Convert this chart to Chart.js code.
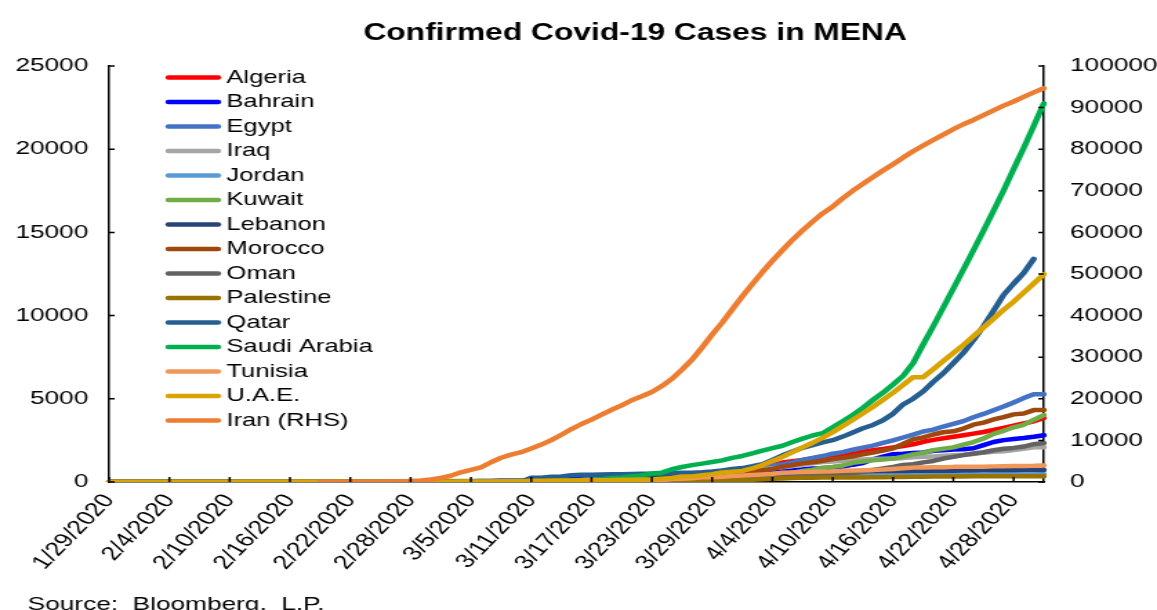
<!DOCTYPE html>
<html>
<head>
<meta charset="utf-8">
<title>Confirmed Covid-19 Cases in MENA</title>
<script src="https://cdn.jsdelivr.net/npm/chart.js@4.4.1/dist/chart.umd.min.js"></script>
<style>
  html, body { margin: 0; padding: 0; background: #fff; overflow: hidden; }
</style>
</head>
<body>
<!-- het canvas wordt breder getoond dan het getekend is, net als het origineel -->
<canvas id="grafiekCanvas" width="838" height="610" style="display:block;width:1157px;height:610px"></canvas>
<script>
// Datums op de x-as (een waarde per dag)
const datums = [
  '1/29/2020', '1/30/2020', '1/31/2020',
  '2/1/2020', '2/2/2020', '2/3/2020', '2/4/2020', '2/5/2020', '2/6/2020', '2/7/2020', '2/8/2020', '2/9/2020', '2/10/2020',
  '2/11/2020', '2/12/2020', '2/13/2020', '2/14/2020', '2/15/2020', '2/16/2020', '2/17/2020', '2/18/2020', '2/19/2020', '2/20/2020',
  '2/21/2020', '2/22/2020', '2/23/2020', '2/24/2020', '2/25/2020', '2/26/2020', '2/27/2020', '2/28/2020', '2/29/2020',
  '3/1/2020', '3/2/2020', '3/3/2020', '3/4/2020', '3/5/2020', '3/6/2020', '3/7/2020', '3/8/2020', '3/9/2020', '3/10/2020',
  '3/11/2020', '3/12/2020', '3/13/2020', '3/14/2020', '3/15/2020', '3/16/2020', '3/17/2020', '3/18/2020', '3/19/2020', '3/20/2020',
  '3/21/2020', '3/22/2020', '3/23/2020', '3/24/2020', '3/25/2020', '3/26/2020', '3/27/2020', '3/28/2020', '3/29/2020', '3/30/2020', '3/31/2020',
  '4/1/2020', '4/2/2020', '4/3/2020', '4/4/2020', '4/5/2020', '4/6/2020', '4/7/2020', '4/8/2020', '4/9/2020', '4/10/2020',
  '4/11/2020', '4/12/2020', '4/13/2020', '4/14/2020', '4/15/2020', '4/16/2020', '4/17/2020', '4/18/2020', '4/19/2020', '4/20/2020',
  '4/21/2020', '4/22/2020', '4/23/2020', '4/24/2020', '4/25/2020', '4/26/2020', '4/27/2020', '4/28/2020', '4/29/2020', '4/30/2020',
  '5/1/2020'
];

// Alleen deze datums krijgen een label en een streepje op de x-as
const tickDatums = ['1/29/2020', '2/4/2020', '2/10/2020', '2/16/2020', '2/22/2020', '2/28/2020', '3/5/2020', '3/11/2020',
  '3/17/2020', '3/23/2020', '3/29/2020', '4/4/2020', '4/10/2020', '4/16/2020', '4/22/2020', '4/28/2020'];

// Bevestigde besmettingen per land (jan | feb | mrt | apr | mei)
const algeria = [
  0, 0, 0,
  0, 0, 0, 0, 0, 0, 0, 0, 0, 0, 0, 0, 0, 0, 0, 0, 0, 0, 0, 0, 0, 0, 0, 0, 0, 0, 1, 1, 1,
  1, 1, 1, 3, 5, 12, 12, 17, 17, 19, 20, 20, 20, 24, 26, 37, 48, 54, 60, 74, 87, 90, 139, 201, 230, 264, 302, 367, 409, 454, 511,
  584, 716, 847, 986, 1171, 1251, 1320, 1423, 1468, 1572, 1666, 1761, 1825, 1914, 1983, 2070, 2160, 2268, 2418, 2534,
  2629, 2718, 2811, 2910, 3007, 3127, 3256, 3382, 3517, 3649,
  3848
];
const bahrain = [
  0, 0, 0,
  0, 0, 0, 0, 0, 0, 0, 0, 0, 0, 0, 0, 0, 0, 0, 0, 0, 0, 0, 0, 0, 0, 0, 0, 1, 23, 26, 33, 36,
  41, 47, 49, 49, 52, 55, 60, 85, 85, 95, 110, 195, 195, 210, 211, 214, 221, 228, 256, 279, 285, 305, 334, 377, 392, 419, 458, 466, 476, 499, 515,
  567, 569, 643, 672, 688, 700, 756, 811, 823, 887, 925, 1040, 1136, 1361, 1528, 1671, 1700, 1740, 1773, 1881,
  1907, 1952, 1973, 2027, 2217, 2403, 2518, 2588, 2647, 2723,
  2811
];
const egypt = [
  0, 0, 0,
  0, 0, 0, 0, 0, 0, 0, 0, 0, 0, 0, 0, 0, 0, 1, 1, 1, 1, 1, 1, 1, 1, 1, 1, 1, 1, 1, 1, 1,
  1, 2, 2, 2, 3, 3, 15, 48, 55, 59, 59, 67, 80, 93, 109, 126, 166, 196, 196, 256, 285, 294, 327, 366, 402, 456, 495, 536, 576, 609, 656,
  710, 779, 865, 985, 1070, 1173, 1322, 1450, 1560, 1699, 1794, 1939, 2065, 2190, 2350, 2505, 2673, 2844, 3032, 3144,
  3333, 3490, 3659, 3891, 4092, 4319, 4534, 4782, 5042, 5268,
  5268
];
const iraq = [
  0, 0, 0,
  0, 0, 0, 0, 0, 0, 0, 0, 0, 0, 0, 0, 0, 0, 0, 0, 0, 0, 0, 0, 0, 0, 0, 0, 1, 1, 5, 6, 7,
  13, 19, 26, 32, 35, 36, 40, 54, 60, 61, 70, 71, 79, 93, 110, 116, 124, 154, 164, 192, 208, 214, 233, 266, 316, 346, 382, 458, 506, 547, 630,
  694, 728, 772, 820, 878, 961, 1031, 1122, 1202, 1232, 1279, 1318, 1352, 1378, 1400, 1415, 1434, 1482, 1513, 1539,
  1574, 1602, 1631, 1677, 1763, 1820, 1847, 1928, 2003, 2085,
  2085
];
const jordan = [
  0, 0, 0,
  0, 0, 0, 0, 0, 0, 0, 0, 0, 0, 0, 0, 0, 0, 0, 0, 0, 0, 0, 0, 0, 0, 0, 0, 0, 0, 0, 0, 0,
  0, 0, 1, 1, 1, 1, 1, 1, 1, 1, 1, 1, 1, 1, 1, 12, 35, 40, 52, 69, 85, 99, 112, 127, 153, 172, 212, 235, 246, 259, 268,
  274, 278, 299, 310, 323, 345, 349, 353, 358, 372, 381, 389, 391, 397, 401, 402, 407, 413, 417, 425,
  428, 429, 435, 437, 441, 444, 447, 449, 451, 453,
  459
];
const kuwait = [
  0, 0, 0,
  0, 0, 0, 0, 0, 0, 0, 0, 0, 0, 0, 0, 0, 0, 0, 0, 0, 0, 0, 0, 0, 0, 0, 0, 1, 11, 26, 43, 45,
  45, 46, 56, 56, 56, 58, 58, 61, 64, 64, 69, 72, 80, 80, 104, 112, 123, 130, 142, 148, 159, 176, 188, 189, 191, 195, 208, 225, 235, 255, 266,
  289, 317, 342, 417, 479, 556, 665, 743, 855, 910, 993, 1154, 1234, 1300, 1355, 1405, 1524, 1658, 1751, 1915,
  1995, 2080, 2248, 2399, 2614, 2892, 3075, 3288, 3440, 3740,
  4024
];
const lebanon = [
  0, 0, 0,
  0, 0, 0, 0, 0, 0, 0, 0, 0, 0, 0, 0, 0, 0, 0, 0, 0, 0, 0, 0, 0, 1, 1, 1, 1, 1, 2, 2, 4,
  7, 10, 13, 13, 13, 16, 22, 28, 32, 32, 41, 61, 61, 77, 93, 99, 109, 120, 133, 157, 163, 187, 248, 267, 304, 333, 368, 391, 412, 438, 446,
  470, 479, 494, 508, 520, 527, 541, 548, 576, 582, 609, 619, 630, 641, 658, 663, 668, 672, 673, 677,
  677, 682, 688, 696, 704, 704, 707, 710, 717, 721,
  725
];
const morocco = [
  0, 0, 0,
  0, 0, 0, 0, 0, 0, 0, 0, 0, 0, 0, 0, 0, 0, 0, 0, 0, 0, 0, 0, 0, 0, 0, 0, 0, 0, 0, 0, 0,
  0, 0, 1, 1, 1, 2, 2, 2, 2, 2, 2, 5, 6, 8, 17, 28, 37, 44, 54, 63, 79, 96, 115, 143, 170, 225, 275, 345, 402, 479, 556,
  617, 654, 708, 791, 919, 1021, 1120, 1184, 1275, 1374, 1448, 1545, 1661, 1763, 1888, 2024, 2283, 2564, 2685, 2855,
  2990, 3046, 3209, 3446, 3568, 3758, 3897, 4065, 4120, 4321,
  4321
];
const oman = [
  0, 0, 0,
  0, 0, 0, 0, 0, 0, 0, 0, 0, 0, 0, 0, 0, 0, 0, 0, 0, 0, 0, 0, 0, 0, 0, 0, 2, 4, 4, 4, 4,
  6, 6, 6, 12, 15, 16, 16, 16, 16, 16, 18, 18, 18, 19, 19, 20, 22, 24, 39, 48, 48, 52, 55, 66, 84, 99, 109, 131, 152, 167, 179,
  192, 210, 231, 252, 277, 298, 331, 371, 419, 457, 484, 546, 599, 727, 813, 910, 1019, 1069, 1180, 1266,
  1410, 1508, 1614, 1716, 1790, 1905, 1998, 2049, 2131, 2274,
  2348
];
const palestine = [
  0, 0, 0,
  0, 0, 0, 0, 0, 0, 0, 0, 0, 0, 0, 0, 0, 0, 0, 0, 0, 0, 0, 0, 0, 0, 0, 0, 0, 0, 0, 0, 0,
  0, 0, 0, 0, 0, 4, 16, 19, 22, 25, 25, 29, 31, 35, 38, 38, 39, 41, 44, 47, 48, 52, 52, 59, 60, 62, 84, 91, 98, 109, 116,
  119, 134, 161, 194, 217, 237, 254, 261, 263, 263, 266, 267, 268, 290, 291, 294, 307, 308, 319, 329,
  335, 336, 336, 342, 342, 342, 342, 342, 343, 344,
  344
];
const qatar = [
  0, 0, 0,
  0, 0, 0, 0, 0, 0, 0, 0, 0, 0, 0, 0, 0, 0, 0, 0, 0, 0, 0, 0, 0, 0, 0, 0, 0, 0, 0, 0, 0,
  1, 1, 3, 7, 8, 8, 11, 15, 15, 18, 262, 262, 320, 337, 401, 439, 439, 452, 460, 470, 481, 494, 501, 526, 537, 549, 562, 590, 634, 693,
  781, 835, 949, 1075, 1325, 1604, 1832, 2057, 2210, 2376, 2512, 2728, 2979, 3231, 3428, 3711, 4103, 4663, 5008, 5448,
  6015, 6533, 7141, 7764, 8525, 9358, 10287, 11244, 11921, 12564,
  13409
];
const saudiArabia = [
  0, 0, 0,
  0, 0, 0, 0, 0, 0, 0, 0, 0, 0, 0, 0, 0, 0, 0, 0, 0, 0, 0, 0, 0, 0, 0, 0, 0, 0, 0, 0, 0,
  0, 0, 1, 1, 1, 5, 5, 5, 11, 15, 20, 21, 45, 86, 103, 103, 118, 171, 238, 274, 344, 392, 511, 562, 767, 900, 1012, 1104, 1203, 1299, 1453,
  1563, 1720, 1885, 2039, 2179, 2402, 2605, 2795, 2932, 3287, 3651, 4033, 4462, 4934, 5369, 5862, 6380, 7142, 8274, 9362,
  10484, 11631, 12772, 13930, 15102, 16299, 17522, 18811, 20077, 21402,
  22753
];
const tunisia = [
  0, 0, 0,
  0, 0, 0, 0, 0, 0, 0, 0, 0, 0, 0, 0, 0, 0, 0, 0, 0, 0, 0, 0, 0, 0, 0, 0, 0, 0, 0, 0, 0,
  0, 0, 1, 1, 1, 1, 1, 1, 2, 5, 5, 7, 13, 16, 18, 20, 24, 29, 39, 54, 60, 75, 89, 114, 173, 197, 227, 278, 278, 312, 362,
  394, 423, 455, 495, 553, 574, 596, 623, 628, 643, 671, 685, 707, 726, 747, 780, 822, 864, 866, 879,
  884, 909, 910, 918, 922, 939, 949, 967, 967, 975,
  994
];
const uae = [
  4, 4, 4,
  4, 5, 5, 5, 5, 5, 5, 5, 5, 7, 8, 8, 8, 8, 8, 9, 9, 9, 9, 9, 9, 11, 11, 11, 13, 13, 13, 19, 19,
  19, 21, 21, 27, 27, 29, 29, 45, 45, 45, 74, 74, 85, 85, 85, 98, 98, 98, 113, 140, 140, 153, 153, 198, 248, 333, 333, 405, 468, 570, 611,
  664, 814, 1024, 1264, 1505, 1799, 2076, 2359, 2659, 2990, 3360, 3736, 4123, 4521, 4933, 5365, 5825, 6302, 6302, 6781,
  7265, 7755, 8238, 8756, 9281, 9813, 10349, 10839, 11380, 11929,
  12481
];
// Iran staat op de rechteras (RHS); voor 19 februari geen gegevens
const iran = [
  null, null, null,
  null, null, null, null, null, null, null, null, null, null, null, null, null, null, null, null, null, null,
  0, 2, 5, 18, 28, 43, 61, 95, 139, 245, 388,
  593, 978, 1501, 2336, 2922, 3513, 4747, 5823, 6566, 7161, 8042, 9000, 10075, 11364, 12729, 13938, 14991, 16169, 17361, 18407,
  19644, 20610, 21638, 23049, 24811, 27017, 29406, 32332, 35408, 38309, 41495,
  44605, 47593, 50468, 53183, 55743, 58226, 60500, 62589, 64586, 66220, 68192, 70029, 71686, 73303, 74877, 76389, 77995, 79494, 80868, 82211,
  83505, 84802, 85996, 87026, 88194, 89328, 90481, 91472, 92584, 93657,
  94640
];

// Namen, reeksen en kleuren in de volgorde van de legenda
const landen = ['Algeria', 'Bahrain', 'Egypt', 'Iraq', 'Jordan', 'Kuwait', 'Lebanon', 'Morocco', 'Oman',
  'Palestine', 'Qatar', 'Saudi Arabia', 'Tunisia', 'U.A.E.', 'Iran (RHS)'];
const waarden = [algeria, bahrain, egypt, iraq, jordan, kuwait, lebanon, morocco, oman,
  palestine, qatar, saudiArabia, tunisia, uae, iran];
const kleuren = ['#FF0000', '#0000FF', '#4472C4', '#A5A5A5', '#5B9BD5', '#70AD47', '#264478', '#9E480E', '#636363',
  '#997300', '#255E91', '#00B050', '#F1975A', '#D9A300', '#ED7D31'];

// Ticks van de y-assen
const linksTicks = [0, 5000, 10000, 15000, 20000, 25000];
const rechtsTicks = [0, 10000, 20000, 30000, 40000, 50000, 60000, 70000, 80000, 90000, 100000];

const titel = 'Confirmed Covid-19 Cases in MENA';
const bron = 'Source:  Bloomberg,  L.P.';

const lettertype = '"Liberation Sans", Arial, Helvetica, sans-serif';
Chart.defaults.font.family = lettertype;
Chart.defaults.color = '#000';

// Plugin voor titel, bron, legenda en de kleine streepjes aan de binnenkant van de assen
const extraTekening = {
  id: 'extraTekening',
  afterDraw(chart) {
    const ctx = chart.ctx;
    const area = chart.chartArea;
    const xAs = chart.scales.x;
    const links = chart.scales.y;
    const rechts = chart.scales.y1;
    ctx.save();

    // streepjes
    ctx.strokeStyle = '#000';
    ctx.lineWidth = 1.5;
    ctx.beginPath();
    linksTicks.forEach(v => {
      const py = links.getPixelForValue(v);
      ctx.moveTo(area.left, py);
      ctx.lineTo(area.left + 4, py);
    });
    rechtsTicks.forEach(v => {
      const py = rechts.getPixelForValue(v);
      ctx.moveTo(area.right, py);
      ctx.lineTo(area.right - 4, py);
    });
    tickDatums.forEach(d => {
      const px = xAs.getPixelForValue(datums.indexOf(d));
      ctx.moveTo(px, area.bottom);
      ctx.lineTo(px, area.bottom - 5);
    });
    ctx.stroke();

    // titel
    ctx.fillStyle = '#000';
    ctx.font = 'bold 23px ' + lettertype;
    ctx.textAlign = 'center';
    ctx.textBaseline = 'alphabetic';
    ctx.fillText(titel, 460, 39.5);

    // bron onderaan
    ctx.font = '19px ' + lettertype;
    ctx.textAlign = 'left';
    ctx.fillText(bron, 20, 610);

    // legenda in de grafiek
    ctx.font = '18.5px ' + lettertype;
    ctx.textBaseline = 'middle';
    ctx.lineCap = 'round';
    ctx.lineWidth = 4.5;
    landen.forEach((naam, i) => {
      const y = area.top + 11.5 + i * 24.5;
      ctx.strokeStyle = kleuren[i];
      ctx.beginPath();
      ctx.moveTo(area.left + 43, y);
      ctx.lineTo(area.left + 79, y);
      ctx.stroke();
      ctx.fillText(naam, area.left + 85, y);
    });
    ctx.restore();
  }
};

// Maak de grafiek
function createChart() {
  const ctx = document.getElementById('grafiekCanvas').getContext('2d');
  const datasets = landen.map((naam, i) => ({
    label: naam,
    data: waarden[i],
    borderColor: kleuren[i],
    backgroundColor: kleuren[i],
    borderWidth: 4.5,
    pointRadius: 0,
    tension: 0,
    fill: false,
    borderCapStyle: 'round',
    borderJoinStyle: 'round',
    yAxisID: i === landen.length - 1 ? 'y1' : 'y',
    order: landen.length - i // latere reeksen bovenop
  }));

  new Chart(ctx, {
    type: 'line',
    data: { labels: datums, datasets: datasets },
    options: {
      responsive: false,
      devicePixelRatio: 1,
      animation: false,
      layout: { padding: { top: 66, left: 0, right: 0, bottom: 0 } },
      plugins: {
        legend: { display: false },
        title: { display: false },
        tooltip: { enabled: false }
      },
      scales: {
        x: {
          type: 'category',
          offset: false,
          grid: { display: false, drawTicks: false },
          border: { display: true, color: '#000', width: 1.5 },
          ticks: {
            autoSkip: false,
            maxRotation: 54,
            minRotation: 54,
            padding: 8,
            font: { size: 19.5 },
            callback: (val, idx) => tickDatums.includes(datums[idx]) ? datums[idx] : ''
          },
          afterFit: s => { s.height = 128; }
        },
        y: {
          position: 'left',
          min: 0,
          max: 25000,
          grid: { display: false, drawTicks: false },
          border: { display: true, color: '#000', width: 1.5 },
          ticks: { stepSize: 5000, padding: 15, font: { size: 19 }, callback: v => String(v) },
          afterFit: s => { s.width = 79; }
        },
        y1: {
          position: 'right',
          min: 0,
          max: 100000,
          grid: { display: false, drawTicks: false },
          border: { display: true, color: '#000', width: 1.5 },
          ticks: { stepSize: 10000, padding: 19, font: { size: 19 }, callback: v => String(v) },
          afterFit: s => { s.width = 82; }
        }
      }
    },
    plugins: [extraTekening]
  });
}

createChart();
</script>
</body>
</html>
